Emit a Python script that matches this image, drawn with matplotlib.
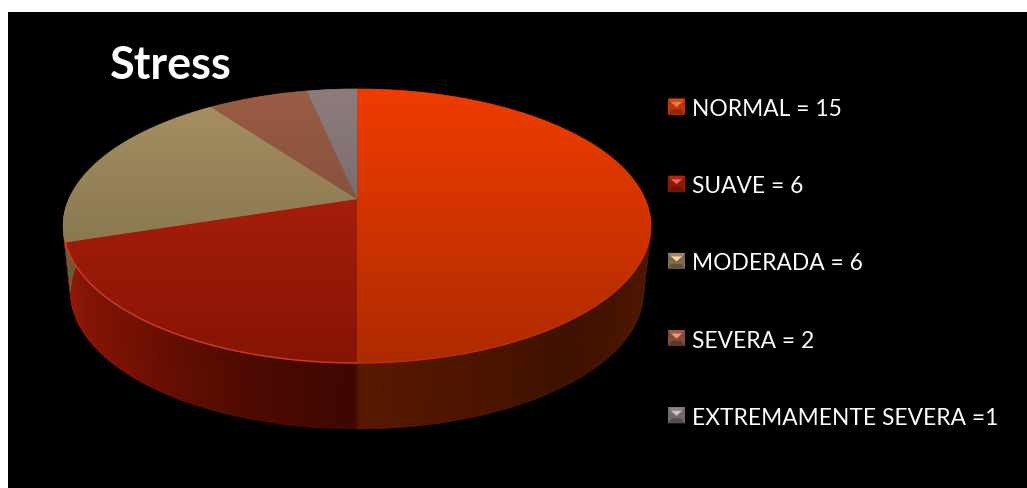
import numpy as np
import matplotlib
matplotlib.use("Agg")
import matplotlib.pyplot as plt
from matplotlib.collections import PolyCollection
from matplotlib.colors import to_rgb
from matplotlib.patches import Polygon, Rectangle

plt.rcParams['font.family'] = ['Lato', 'DejaVu Sans']

etiquetas = ["NORMAL = 15", "SUAVE = 6", "MODERADA = 6", "SEVERA = 2", "EXTREMAMENTE SEVERA =1"]
valores = [15, 6, 6, 2, 1]

# color de cada sector arriba y abajo del degradado
color_arriba = ["#f03c00", "#bc2410", "#a89163", "#9c5c44", "#8e7c7c"]
color_abajo = ["#ae2a00", "#861404", "#746444", "#6a4436", "#5e565c"]
marca_sup = ["#e0481a", "#b02418", "#a08c64", "#9c5c48", "#8c8080"]
marca_base = ["#b8360c", "#8c1a0c", "#7c6c4c", "#7c4c3c", "#746a6a"]
marca_inf = ["#8c2808", "#6a1208", "#5c5038", "#5c382c", "#564e4e"]
marca_luz = ["#ff8040", "#ff5c4c", "#f8d898", "#f89478", "#d0c0c0"]

# pared lateral: color segun x
pared_x = [60, 90, 150, 250, 356, 358, 500, 560, 650]
pared_r = [150, 135, 112, 78, 62, 90, 74, 64, 78]
pared_g = [26, 22, 16, 10, 8, 25, 20, 18, 24]
pared_b = [8, 6, 3, 2, 2, 0, 0, 0, 0]

cx, cy = 357, 200
c, a, d = 0.197, 131.7, 288
grosor, escala_base = 66, 0.975


def proyectar(theta):
    # theta en grados desde arriba, en sentido horario, con perspectiva
    t = np.radians(theta)
    u, v = np.sin(t), -np.cos(t)
    return cx + d * u / (1 - c * v), cy + a * v / (1 - c * v)


def sector(ax, ini, fin, arriba, abajo):
    th = np.linspace(ini, fin, 80)
    x, y = proyectar(th)
    pts = np.column_stack([np.r_[cx, x], np.r_[cy, y]])
    c1 = np.array(to_rgb(arriba))
    c2 = np.array(to_rgb(abajo))
    medio = (c1 + c2) / 2
    # el poligono de fondo tapa las juntas entre sectores
    parche = Polygon(pts, closed=True, fc=medio, ec=medio, lw=0.6, zorder=2.5)
    ax.add_patch(parche)
    f = np.linspace(0, 1, 256)[:, None]
    img = ax.imshow((c1 * (1 - f) + c2 * f)[:, None, :], extent=(50, 660, 364, 90),
                    aspect="auto", zorder=3, interpolation="bilinear")
    img.set_clip_path(parche)


fig = plt.figure(figsize=(10.27, 4.89), dpi=100, facecolor="white")
ax = fig.add_axes([0, 0, 1, 1])
ax.axis("off")
ax.add_patch(Rectangle((8, 13), 1019, 476, fc="black", ec="none", zorder=0))

# pared lateral
angulos = np.r_[0, np.cumsum(valores)] / sum(valores) * 360
th = np.linspace(88, 272, 370)
x, y = proyectar(th)
xb = cx + (x - cx) * escala_base
yb = y + grosor
quads, colores = [], []
for i in range(len(th) - 1):
    quads.append([(x[i], y[i]), (x[i + 1], y[i + 1]), (xb[i + 1], yb[i + 1]), (xb[i], yb[i])])
    xm = (xb[i] + xb[i + 1]) / 2
    if th[i] > angulos[2] + 7:
        colores.append((0.42, 0.36, 0.22))
    else:
        colores.append((np.interp(xm, pared_x, pared_r) / 255,
                        np.interp(xm, pared_x, pared_g) / 255,
                        np.interp(xm, pared_x, pared_b) / 255))
ax.add_collection(PolyCollection(quads, facecolors=colores, edgecolors=colores, linewidths=0.5, zorder=2))

# cara superior
for i in range(len(valores)):
    sector(ax, angulos[i], angulos[i + 1], color_arriba[i], color_abajo[i])

# brillo del borde
th = np.linspace(angulos[1], angulos[2], 120)
x, y = proyectar(th)
ax.plot(x, y, color="#d8442c", lw=1.1, alpha=0.8, zorder=4)
th = np.linspace(angulos[0] + 60, angulos[1], 120)
x, y = proyectar(th)
ax.plot(x, y, color="#c83800", lw=1.0, alpha=0.6, zorder=4)

# leyenda
for i, texto in enumerate(etiquetas):
    yc = 107.5 + i * 77.2
    ax.add_patch(Rectangle((668, yc - 8), 17, 16, fc=marca_base[i], ec="none", zorder=3))
    ax.add_patch(Polygon([(668, yc - 8), (685, yc - 8), (681, yc - 3), (672, yc - 3)],
                         fc=marca_sup[i], ec="none", zorder=4))
    ax.add_patch(Polygon([(668, yc + 8), (685, yc + 8), (681, yc + 3), (672, yc + 3)],
                         fc=marca_inf[i], ec="none", zorder=4))
    ax.add_patch(Polygon([(671, yc - 4.5), (682, yc - 4.5), (676.5, yc + 0.5)],
                         fc=marca_luz[i], ec="none", zorder=5))
    ax.text(692, yc, texto, color="white", fontsize=16.4, va="center_baseline", ha="left")

ax.text(110, 62, "Stress", color="white", fontsize=32.4, fontweight="bold", va="center_baseline", ha="left")

ax.set_xlim(0, 1027)
ax.set_ylim(489, 0)
fig.savefig("out.png", dpi=100, facecolor="white")
